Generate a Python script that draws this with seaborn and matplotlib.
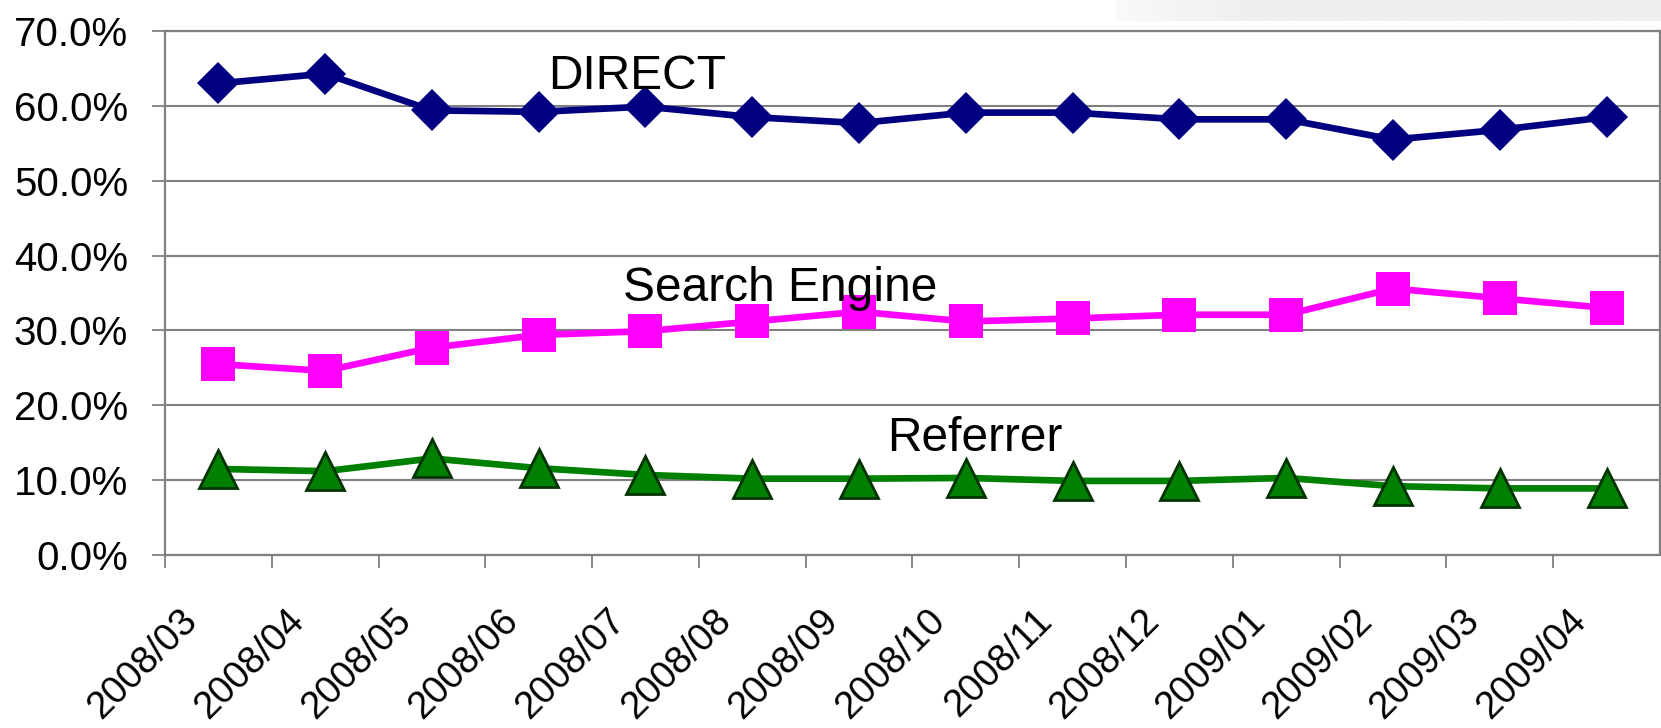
import matplotlib
matplotlib.use("Agg")
import matplotlib.pyplot as plt
import matplotlib.transforms as mtransforms
import numpy as np
import pandas as pd
import seaborn as sns
from matplotlib.ticker import FuncFormatter, FixedLocator

MONTHS = ["2008/03", "2008/04", "2008/05", "2008/06", "2008/07", "2008/08", "2008/09",
          "2008/10", "2008/11", "2008/12", "2009/01", "2009/02", "2009/03", "2009/04"]
DIRECT = [63.0, 64.3, 59.4, 59.2, 59.9, 58.5, 57.7, 59.1, 59.1, 58.2, 58.2, 55.5, 56.8, 58.5]
SEARCH = [25.5, 24.6, 27.7, 29.4, 29.9, 31.2, 32.5, 31.2, 31.6, 32.1, 32.1, 35.6, 34.3, 33.0]
REFERRER = [11.5, 11.2, 12.9, 11.6, 10.7, 10.2, 10.2, 10.3, 9.9, 9.9, 10.3, 9.2, 8.9, 8.9]
Y_TICKS = [0, 10, 20, 30, 40, 50, 60, 70]

sns.set_style("white")
plt.rcParams["font.family"] = ["Liberation Sans", "DejaVu Sans"]
plt.rcParams["text.color"] = "black"
plt.rcParams["xtick.labelcolor"] = "black"
plt.rcParams["ytick.labelcolor"] = "black"

df = pd.DataFrame({"month": MONTHS, "DIRECT": DIRECT,
                   "Search Engine": SEARCH, "Referrer": REFERRER})

fig, ax = plt.subplots(figsize=(16.61, 7.28), dpi=100)
fig.subplots_adjust(left=0.0993, right=0.9994, top=0.9574, bottom=0.2376)

# light gray band at the top right (leftover from the slide)
band = fig.add_axes([1116 / 1661, 1 - 21 / 728, 1 - 1116 / 1661, 21 / 728])
grad = np.concatenate([np.linspace(0.975, 0.937, 60), np.full(200, 0.937)])[None, :]
band.imshow(grad, aspect="auto", cmap="gray", vmin=0, vmax=1)
band.axis("off")

GRID = "#808080"
ax.set_axisbelow(True)
ax.grid(axis="y", color=GRID, lw=1.5)

sns.lineplot(data=df, x="month", y="DIRECT", ax=ax, sort=False, color="#000080",
             lw=4.8, marker="D", markersize=21.5, markeredgewidth=0)
sns.lineplot(data=df, x="month", y="Search Engine", ax=ax, sort=False, color="#ff00ff",
             lw=4.8, marker="s", markersize=24.5, markeredgewidth=0)
sns.lineplot(data=df, x="month", y="Referrer", ax=ax, sort=False, color="#008000",
             lw=4.8, marker="^", markersize=27, markeredgecolor="#003300",
             markeredgewidth=2)

n = len(MONTHS)
ax.set_xlim(-0.5, n - 0.5)
ax.set_ylim(0, 70)
ax.set_yticks(Y_TICKS)
ax.yaxis.set_major_formatter(FuncFormatter(lambda v, _: f"{v:.1f}%"))
ax.set_xticks(range(n))
ax.set_xticklabels(MONTHS, rotation=45, ha="right", va="top", rotation_mode="anchor")
ax.xaxis.set_minor_locator(FixedLocator(np.arange(-0.5, n - 1, 1.0)))
ax.set_xlabel("")
ax.set_ylabel("")

ax.tick_params(axis="x", which="major", length=0, pad=34, labelsize=27.5)
ax.tick_params(axis="x", which="minor", length=9.5, width=1.3, color=GRID,
               direction="out", bottom=True)
ax.tick_params(axis="y", which="major", length=9.5, width=1.3, color=GRID,
               direction="out", pad=17, labelsize=29, left=True)

shift = mtransforms.ScaledTranslation(-0.39, 0, fig.dpi_scale_trans)
for lab in ax.get_xticklabels():
    lab.set_transform(lab.get_transform() + shift)

for sp in ax.spines.values():
    sp.set_visible(True)
    sp.set_color(GRID)
    sp.set_linewidth(1.6)

ax.text(3.09, 62.25, "DIRECT", fontsize=34.5, ha="left", va="baseline")
ax.text(3.79, 33.97, "Search Engine", fontsize=34.5, ha="left", va="baseline")
ax.text(6.26, 13.9, "Referrer", fontsize=34.5, ha="left", va="baseline")

fig.savefig("out.png", dpi=100)
